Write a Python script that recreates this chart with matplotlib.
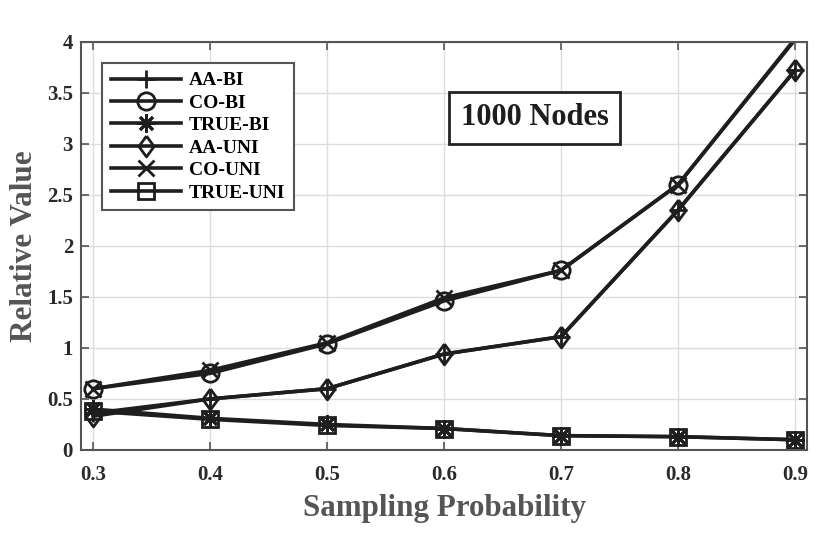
import numpy as np
import matplotlib
matplotlib.use("Agg")
import matplotlib.pyplot as plt

# values
probability = [0.3, 0.4, 0.5, 0.6, 0.7, 0.8, 0.9]
aa_bi = [0.36, 0.50, 0.60, 0.94, 1.11, 2.35, 3.72]
co_bi = [0.60, 0.75, 1.04, 1.46, 1.76, 2.60, 4.02]
true_bi = [0.40, 0.31, 0.25, 0.21, 0.14, 0.13, 0.10]
aa_uni = [0.33, 0.50, 0.60, 0.94, 1.11, 2.35, 3.72]
co_uni = [0.60, 0.78, 1.05, 1.49, 1.76, 2.60, 4.03]
true_uni = [0.38, 0.30, 0.24, 0.21, 0.14, 0.13, 0.10]

# MATLAB-like diamond (a bit wider than matplotlib's thin 'd')
diamond = [(0, 1), (0.73, 0), (0, -1), (-0.73, 0), (0, 1)]

series = [
    ("AA-BI", aa_bi, "+", 13),
    ("CO-BI", co_bi, "o", 12.5),
    ("TRUE-BI", true_bi, (8, 2, 0), 13),
    ("AA-UNI", aa_uni, diamond, 15),
    ("CO-UNI", co_uni, "x", 12),
    ("TRUE-UNI", true_uni, "s", 11),
]

plt.rcParams["font.family"] = ["Liberation Serif", "DejaVu Serif"]
plt.rcParams["font.weight"] = "bold"

fig = plt.figure(figsize=(8.3, 5.35), dpi=100)
ax = fig.add_axes([0.098, 0.159, 0.874, 0.763])

ink = "#1e1e1e"
for name, vals, mk, ms in series:
    vals = np.array(vals)
    inside = list(np.where(vals <= 4)[0])
    ax.plot(probability, vals, color=ink, lw=2.6, marker=mk, markersize=ms,
            markerfacecolor="none", markeredgecolor=ink, markeredgewidth=2,
            markevery=inside, label=name)

ax.set_xlim(0.29, 0.91)
ax.set_ylim(0, 4)
ax.set_xticks(probability)
ax.set_yticks(np.arange(0, 4.01, 0.5))
ax.set_yticklabels(["0", "0.5", "1", "1.5", "2", "2.5", "3", "3.5", "4"])
ax.grid(True, color="#dddddd", lw=1)
ax.set_axisbelow(True)
ax.tick_params(direction="in", length=6, width=1.2, top=True, right=True,
               labelsize=15, colors="#555555", labelcolor="#2a2a2a")
ax.tick_params(axis="x", pad=11)
ax.tick_params(axis="y", pad=6)
for sp in ax.spines.values():
    sp.set_color("#555555")
    sp.set_linewidth(1.5)

ax.set_xlabel("Sampling Probability", fontsize=22.3, fontweight="bold",
              color="#555555", labelpad=6)
ax.set_ylabel("Relative Value", fontsize=22.5, fontweight="bold",
              color="#555555", labelpad=6)

leg = ax.legend(loc="upper left", bbox_to_anchor=(0.029, 0.948), fontsize=14,
                handlelength=3.6, labelspacing=0.25, borderpad=0.45,
                borderaxespad=0, handletextpad=0.4, fancybox=False,
                framealpha=1)
leg.get_frame().set_edgecolor("#555555")
leg.get_frame().set_linewidth(1.5)

ax.text(0.625, 0.814, "1000 Nodes", transform=ax.transAxes, ha="center",
        va="center", fontsize=22, fontweight="bold", color=ink,
        bbox=dict(boxstyle="square,pad=0.38", facecolor="white",
                  edgecolor="#222222", linewidth=2))

fig.savefig("out.png", dpi=100)
